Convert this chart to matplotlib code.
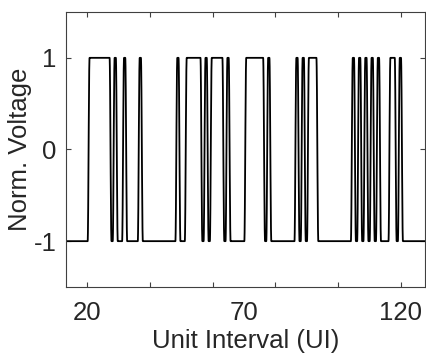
import numpy as np
import matplotlib
matplotlib.use("Agg")
import matplotlib.pyplot as plt
from matplotlib.ticker import FixedLocator

# ------------------------- Data -------------------------
# NRZ bit pattern, one value per unit interval starting at UI 13
ui_start = 13
bits = [
    0, 0, 0, 0, 0, 0, 0,                          # 13-19
    1, 1, 1, 1, 1, 1, 1,                          # 20-26
    0, 1, 0, 0, 1, 0, 0, 0, 0, 1,                 # 27-36
    0, 0, 0, 0, 0, 0, 0, 0, 0, 0, 0,              # 37-47
    1, 0, 0, 1, 1, 1, 1, 1, 0, 1, 0,              # 48-58
    1, 1, 1, 1, 0, 1, 0, 0, 0, 0, 0,              # 59-69
    1, 1, 1, 1, 1, 1, 0, 1, 0, 0, 0, 0, 0, 0, 0, 0,  # 70-85
    1, 0, 1, 0, 1, 1, 1,                          # 86-92
    0, 0, 0, 0, 0, 0, 0, 0, 0, 0, 0,              # 93-103
    1, 0, 1, 0, 1, 0, 1, 0, 1, 0, 0, 0, 1, 1, 0, 1,  # 104-119
    0, 0, 0, 0, 0, 0, 0, 0,                       # 120-127
]
x_ticks = [20, 70, 120]
x_minor = [20, 40, 60, 80, 100, 120]
y_ticks = [-1, 0, 1]
y_labels = ["-1", "0", "1"]

# ------------------------- Waveform -------------------------
rise = 0.6      # edge duration in UI
delay = 0.1     # edge start after bit boundary

levels = 2 * np.array(bits, dtype=float) - 1
t = np.linspace(ui_start, ui_start + len(bits), len(bits) * 60 + 1)
v = np.full_like(t, levels[0])
for k in range(1, len(levels)):
    step = levels[k] - levels[k - 1]
    if step == 0:
        continue
    u = np.clip((t - (ui_start + k + delay)) / rise, 0, 1)
    v += step * (0.5 - 0.5 * np.cos(np.pi * u))

# ------------------------- Plot -------------------------
plt.rcParams["font.family"] = ["Liberation Sans", "DejaVu Sans"]
fs = 18.5
fig = plt.figure(figsize=(4.26, 3.53), dpi=100)
ax = fig.add_axes([0.155, 0.187, 0.843, 0.779])

ax.plot(t, v, color="black", lw=1.3)

ax.set_xlim(13.2, 127.8)
ax.set_ylim(-1.5, 1.5)

ax.xaxis.remove_overlapping_locs = False
ax.set_xticks(x_ticks)
ax.set_xticklabels([str(x) for x in x_ticks])
ax.xaxis.set_minor_locator(FixedLocator(x_minor))
ax.set_yticks(y_ticks)
ax.set_yticklabels(y_labels)

ax.tick_params(axis="x", which="major", length=0, labelsize=fs, pad=10,
               colors="#262626")
ax.tick_params(axis="x", which="minor", direction="in", length=3.5,
               width=0.8, top=True, color="#404040")
ax.tick_params(axis="y", which="major", direction="in", length=3.5,
               width=0.8, right=True, labelsize=fs, pad=7,
               color="#404040", labelcolor="#262626")

for s in ax.spines.values():
    s.set_color("#404040")
    s.set_linewidth(0.8)

ax.set_xlabel("Unit Interval (UI)", fontsize=fs, color="#262626", labelpad=3)
ax.set_ylabel("Norm. Voltage", fontsize=fs, color="#262626", labelpad=1)

fig.savefig("out.png", dpi=100)
